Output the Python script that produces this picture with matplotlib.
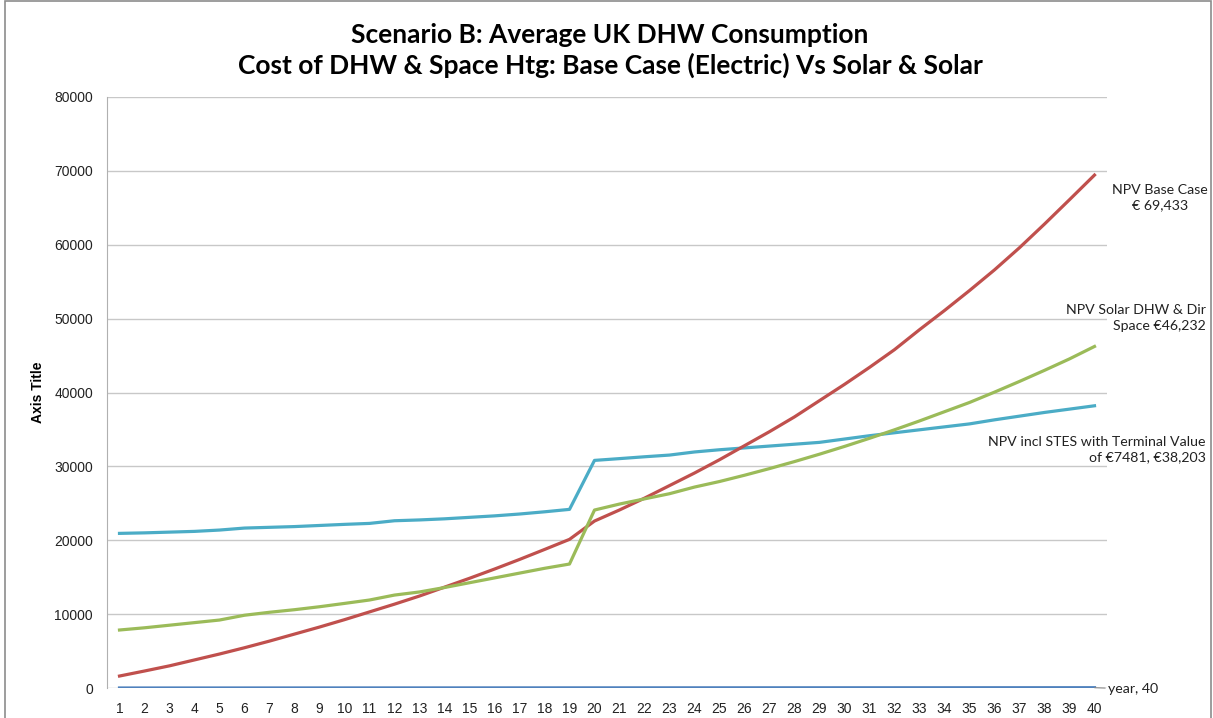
import numpy as np
import matplotlib
matplotlib.use('Agg')
import matplotlib.pyplot as plt
from matplotlib.patches import Rectangle

years = list(range(1, 41))

# NPV base case (electric)
base_case = [1620, 2300, 3000, 3800, 4600, 5450, 6350, 7300, 8250, 9250,
             10300, 11350, 12450, 13650, 14850, 16100, 17400, 18750, 20120, 22600,
             24100, 25700, 27400, 29100, 30900, 32800, 34700, 36700, 38900, 41100,
             43400, 45800, 48500, 51100, 53800, 56600, 59600, 62800, 66100, 69433]

# NPV solar DHW & direct space heating
solar_dhw = [7850, 8150, 8500, 8850, 9200, 9850, 10250, 10600, 11000, 11450,
             11910, 12580, 13000, 13600, 14250, 14900, 15550, 16200, 16780, 24090,
             24900, 25600, 26300, 27200, 27950, 28800, 29700, 30650, 31650, 32700,
             33800, 34950, 36150, 37400, 38650, 40050, 41500, 43000, 44550, 46232]

# NPV incl STES with terminal value
stes = [20930, 21000, 21100, 21200, 21380, 21650, 21750, 21850, 22000, 22150,
        22280, 22640, 22750, 22900, 23100, 23300, 23550, 23850, 24180, 30810,
        31050, 31300, 31530, 31950, 32250, 32500, 32750, 33000, 33250, 33700,
        34150, 34550, 34950, 35350, 35750, 36300, 36800, 37300, 37750, 38203]

# the "year" series itself
year_series = years

fig = plt.figure(figsize=(12.13, 7.18), dpi=100)
ax = fig.add_axes([107 / 1213, 1 - 688 / 718, 1000 / 1213, (688 - 97) / 718])

# outer chart frame
fig.patches.append(Rectangle((5 / 1213, -0.01), 1206 / 1213, 1.008, transform=fig.transFigure,
                             fill=False, edgecolor='#8c8c8c', linewidth=1.2))

lw = 2.3
ax.plot(years, year_series, color='#4F81BD', linewidth=lw, zorder=3)
ax.plot(years, stes, color='#4BACC6', linewidth=lw, zorder=3)
ax.plot(years, base_case, color='#C0504D', linewidth=lw, zorder=3)
ax.plot(years, solar_dhw, color='#9BBB59', linewidth=lw, zorder=3)

ax.set_xlim(0.5, 40.5)
ax.set_ylim(0, 80000)
ax.set_yticks(np.arange(0, 80001, 10000))
ax.set_xticks(years)
ax.set_xticklabels([str(y) for y in years])
ax.yaxis.grid(True, color='#c8c8c8', linewidth=1.0)
ax.set_axisbelow(True)
for s in ['top', 'right', 'bottom']:
    ax.spines[s].set_visible(False)
ax.spines['left'].set_color('#b0b0b0')
ax.tick_params(axis='both', length=0, labelsize=10, colors='#222222')
ax.tick_params(axis='y', pad=10)
ax.tick_params(axis='x', pad=10)
for lab in ax.get_yticklabels() + ax.get_xticklabels():
    lab.set_family(['Liberation Sans', 'DejaVu Sans'])

ax.set_ylabel('Axis Title', fontsize=10, fontweight='bold', family=['Liberation Sans Narrow', 'Liberation Sans'],
              labelpad=7)

title_font = dict(fontsize=19, fontweight='bold', family=['Lato', 'DejaVu Sans'])
fig.text(610 / 1213, 1 - 35 / 718, 'Scenario B: Average UK DHW Consumption', ha='center', va='center',
         **title_font)
fig.text(610 / 1213, 1 - 65 / 718, 'Cost of DHW & Space Htg: Base Case (Electric) Vs Solar & Solar', ha='center',
         va='center', **title_font)

lab_font = dict(fontsize=10.2, family=['Lato', 'DejaVu Sans'], color='#222222')
fig.text(1160 / 1213, 1 - 198 / 718, 'NPV Base Case\n€ 69,433', ha='center', va='center',
         linespacing=1.3, **lab_font)
fig.text(1206 / 1213, 1 - 318 / 718, 'NPV Solar DHW & Dir\nSpace €46,232', ha='right', va='center',
         multialignment='right', linespacing=1.3, **lab_font)
fig.text(1206 / 1213, 1 - 450 / 718, 'NPV incl STES with Terminal Value\nof €7481, €38,203', ha='right',
         va='center', multialignment='right', linespacing=1.3, **lab_font)

# data label for the year series with leader line
ax.annotate('year, 40', xy=(years[-1], year_series[-1]), xytext=(1108 / 1213, 1 - 689 / 718),
            textcoords='figure fraction', ha='left', va='center', annotation_clip=False,
            arrowprops=dict(arrowstyle='-', color='#888888', linewidth=0.8, shrinkA=0, shrinkB=0),
            **lab_font)

fig.savefig('out.png', dpi=100)
